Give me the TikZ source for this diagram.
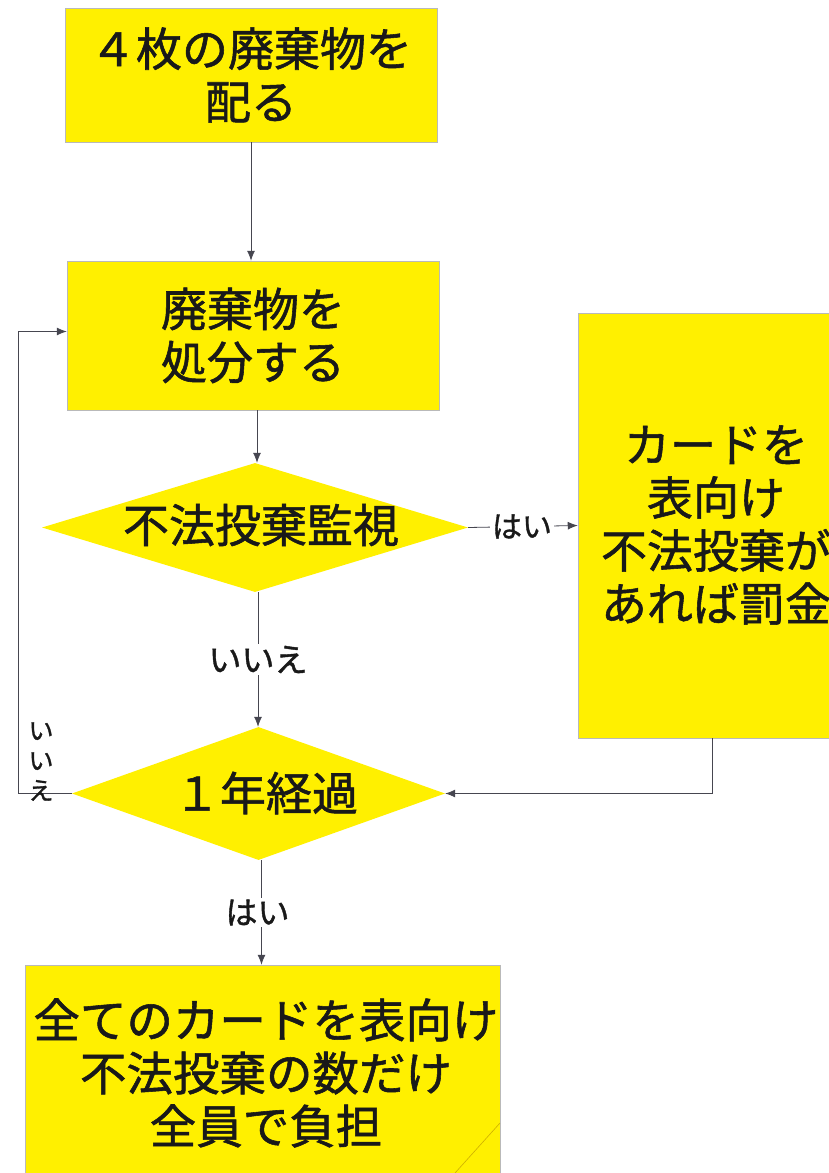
\documentclass[tikz,border=0pt]{standalone}
\usepackage{fontspec}
\newfontfamily\cjk[FakeBold=1.2]{Noto Sans CJK JP}
\usetikzlibrary{shapes.geometric,arrows.meta}
\definecolor{boxy}{RGB}{255,240,0}
\definecolor{ink}{RGB}{25,25,25}
\definecolor{wire}{RGB}{70,70,80}
\definecolor{foldc}{RGB}{205,175,0}
\begin{document}
\begin{tikzpicture}[x=1pt,y=-1pt,
  boxnode/.style={rectangle,fill=boxy,draw=gray!55,line width=0.5pt,inner sep=0pt,text=ink,
    font=\cjk\fontsize{46}{53}\selectfont,align=center},
  decnode/.style={diamond,fill=boxy,draw=none,inner sep=0pt},
  dectext/.style={text=ink,font=\cjk\fontsize{46}{53}\selectfont,inner sep=0pt},
  lab/.style={fill=white,text=ink,inner sep=2pt,font=\cjk\fontsize{33}{38}\selectfont},
  flow/.style={draw=wire,line width=0.8pt,-{Latex[length=10pt,width=8pt]}}]
\useasboundingbox (0,0) rectangle (828,1173);
\fill[white] (0,0) rectangle (828,1173);

\node[boxnode,minimum width=372pt,minimum height=134pt] (b1) at (251,75) {４枚の廃棄物を\\配る};
\node[boxnode,minimum width=372pt,minimum height=149pt] (b2) at (253,335.5) {廃棄物を\\処分する};
\node[boxnode,minimum width=274pt,minimum height=425pt] (rb) at (715,525.5) {};
\node[text=ink,font=\cjk\fontsize{46}{53}\selectfont,align=center,inner sep=0pt] (rt) at (716,525) {カードを\\表向け\\不法投棄が\\あれば罰金};
\node[boxnode,minimum width=475pt,minimum height=220pt] (b3) at (262.5,1075) {};
\node[text=ink,font=\cjk\fontsize{46.5}{53}\selectfont,align=center,inner sep=0pt] (bt) at (266,1073) {全てのカードを表向け\\不法投棄の数だけ\\全員で負担};
\draw[foldc,line width=0.6pt] (500,1123) -- (455,1173);

\node[decnode,minimum width=426pt,minimum height=129pt] (d1) at (255,527.5) {};
\node[dectext] (t1) at (261,525) {不法投棄監視};
\node[decnode,minimum width=373pt,minimum height=133pt] (d2) at (258.5,793.5) {};
\node[dectext] (t2) at (266,793) {１年経過};

\draw[flow] (b1.south) -- (b1.south |- b2.north);
\draw[flow] ([xshift=4pt]b2.south) -- ([xshift=4pt]b2.south |- d1.north);
\draw[flow] (d1.east) -- node[lab,font=\cjk\fontsize{30}{34}\selectfont,xshift=-1pt]{はい} (rb.west);
\draw[flow] ([xshift=3pt]d1.south) -- node[lab]{いいえ} ([xshift=3pt]d1.south |- d2.north);
\draw[flow] ([xshift=-3pt]rb.south) |- (d2.east);
\coordinate (lx) at (18,797);
\draw[flow] (d2.west) -- (d2.west -| lx) |- ([yshift=4pt]b2.west);
\node[text=ink,font=\cjk\fontsize{25}{30}\selectfont,align=center,inner sep=0pt,anchor=south] (lt) at (41,801) {い\\い\\え};
\draw[flow] ([xshift=3pt]d2.south) -- node[lab,font=\cjk\fontsize{32}{36}\selectfont,xshift=-4pt]{はい} ([xshift=3pt]d2.south |- b3.north);
\end{tikzpicture}
\end{document}
